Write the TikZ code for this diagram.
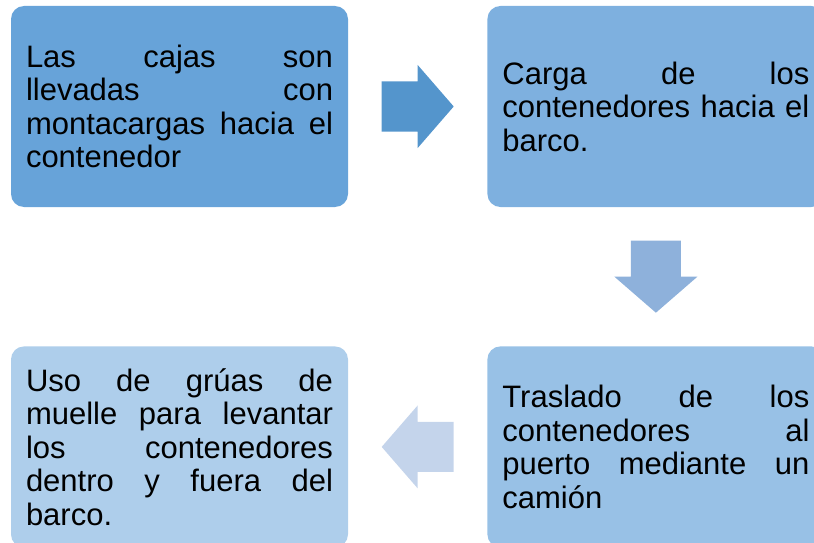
\documentclass[tikz,border=0pt]{standalone}
\usepackage{fontspec}
\setmainfont{Liberation Sans}
\usetikzlibrary{positioning,calc}

\definecolor{cajaA}{HTML}{67A3D9}
\definecolor{cajaB}{HTML}{7EB0DF}
\definecolor{cajaC}{HTML}{98C1E6}
\definecolor{cajaD}{HTML}{AECEEB}
\definecolor{flechaA}{HTML}{5495CC}
\definecolor{flechaB}{HTML}{8EB1DB}
\definecolor{flechaC}{HTML}{C4D4EB}

\tikzset{
  etapa/.style={rounded corners=13pt, minimum width=337pt, minimum height=201pt,
    text width=307pt, inner xsep=15pt, inner ysep=0pt, align=justify,
    font=\fontsize{31}{33.5}\selectfont},
  pics/flecha/.style={code={
    \fill[#1] (-36,-25) -- (0,-25) -- (0,-41.5) -- (36,0) -- (0,41.5) -- (0,25) -- (-36,25) -- cycle;
  }}
}

\begin{document}
\begin{tikzpicture}[x=1pt,y=-1pt]
      % the frame, the boxes on the right are cut by it
      \useasboundingbox (0,0) rectangle (814,543);
      \clip (0,0) rectangle (814,543);

      %% the four steps
      \node[etapa, fill=cajaA] (caja1) at (179.5,106.5)
        {Las cajas son\linebreak llevadas con\linebreak montacargas hacia el\linebreak contenedor};
      \node[etapa, fill=cajaB, right=139pt of caja1] (caja2)
        {Carga de los\linebreak contenedores hacia el\linebreak barco.};
      \node[etapa, fill=cajaC, below=139pt of caja2] (caja3)
        {Traslado de los\linebreak contenedores al\linebreak puerto mediante un\linebreak camión};
      \node[etapa, fill=cajaD, left=139pt of caja3] (caja4)
        {Uso de grúas de\linebreak muelle para levantar\linebreak los contenedores\linebreak dentro y fuera del\linebreak barco.};

      %% the arrows between them
      \coordinate (f12) at ($(caja1.east)!.5!(caja2.west)$);
      \coordinate (f23) at ($(caja2.south)!.5!(caja3.north)$);
      \coordinate (f34) at ($(caja3.west)!.5!(caja4.east)$);
      \pic at (f12) {flecha=flechaA};
      \pic[rotate=-90] at (f23) {flecha=flechaB};
      \pic[rotate=180] at (f34) {flecha=flechaC};
\end{tikzpicture}
\end{document}
